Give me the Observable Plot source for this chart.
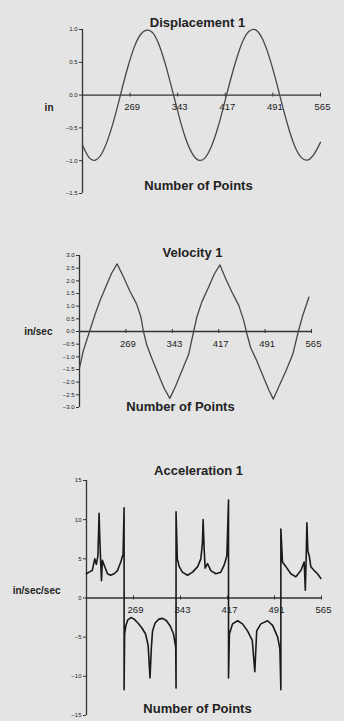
<!DOCTYPE html>
<html><head><meta charset="utf-8">
<script src="https://cdn.jsdelivr.net/npm/d3@7"></script>
<script src="https://cdn.jsdelivr.net/npm/@observablehq/plot@0.6"></script>
<style>
html,body{margin:0;padding:0;background:#e4e4e4;}
#wrap{position:relative;width:344px;height:721px;overflow:hidden;background:#e4e4e4;}
#wrap svg{position:absolute;left:0;}
</style></head><body><div id="wrap"></div>
<script>
// ---- data ----
const xTicks = [269, 343, 417, 491, 565];
const xLabel = "Number of Points";

const dispTitle = "Displacement 1";
const dispUnit = "in";
const dispTicks = [1.0, 0.5, 0.0, -0.5, -1.0, -1.5];
const dispPoints = [195,205,215,225,235,245,255,265,275,285,295,305,315,325,335,345,355,365,375,385,395,405,415,425,435,445,455,465,475,485,495,505,515,525,535,545,555,565];
const dispValues = [-0.76,-0.95,-0.99,-0.89,-0.66,-0.34,0.04,0.41,0.72,0.92,0.99,0.94,0.74,0.43,0.06,-0.32,-0.65,-0.88,-0.99,-0.96,-0.79,-0.51,-0.15,0.23,0.57,0.84,0.98,0.99,0.85,0.59,0.25,-0.13,-0.49,-0.78,-0.95,-0.99,-0.90,-0.72];

const velTitle = "Velocity 1";
const velUnit = "in/sec";
const velTicks = [3.0,2.5,2.0,1.5,1.0,0.5,0.0,-0.5,-1.0,-1.5,-2.0,-2.5,-3.0];
const velPoints = [195,201,211,220,228,238,246,255,265,276,286,293,297,302,310,321,330,339,348,358,369,377,382,390,401,410,419,428,438,449,457,461,468,478,489,497,504,513,524,535,544,551,561];
const velValues = [-1.44,-0.77,0,0.69,1.23,1.83,2.29,2.67,2.16,1.56,1.09,0.56,0,-0.51,-1.04,-1.71,-2.24,-2.64,-2.17,-1.57,-0.91,0,0.56,1.16,1.76,2.27,2.63,2.09,1.56,1.03,0.43,0,-0.64,-1.17,-1.84,-2.31,-2.67,-2.17,-1.57,-0.91,0,0.63,1.36];

const accTitle = "Acceleration 1";
const accUnit = "in/sec/sec";
const accTicks = [15,10,5,0,-5,-10,-15];
const accPoints = [195,199,204,208,210.5,213,214.8,216,217.5,218.6,220,223.8,228,233,238.5,243.8,249,252.6,254.2,254.2,
  255,257,260,265,270,276,282,288,292,295,297,299,303,309,315,321,327,332,335.5,336,336,
  338,341,346,354,362,370,375,377.5,378.6,380.2,381.8,385.5,390.7,398.6,406.5,411.7,416,418.6,418.6,
  420,425,433,440.6,448.5,456,460,463,469.5,480,488,496,499.5,501,501,
  503.6,509,516.7,524.6,532.5,537.7,539.5,541,542,543.5,545.6,548.2,553.5,558.7,564];
const accValues = [3.1,3.3,3.5,5.0,4.3,5.4,10.8,7.5,4.2,2.2,4.8,4.0,3.1,2.9,3.1,3.5,4.6,5.6,11.5,-11.7,
  -4.6,-3.5,-2.8,-2.5,-2.7,-3.2,-3.8,-4.6,-6.0,-10.2,-6.5,-4.2,-3.2,-2.7,-2.6,-2.9,-3.6,-4.6,-6.3,-11.5,11.0,
  5.0,4.0,3.3,2.9,3.3,4.0,5.0,7.0,10.0,6.3,3.8,4.4,3.5,3.1,3.3,4.2,5.4,12.5,-10.2,
  -4.6,-3.3,-2.9,-3.3,-4.2,-5.4,-9.4,-4.2,-3.3,-2.9,-3.5,-5.0,-6.5,-11.7,8.8,
  4.6,4.0,3.1,2.7,3.5,4.6,1.0,5.5,9.6,6.0,5.4,4.0,3.5,3.1,2.5];

// ---- drawing ----
const FONT = "'Liberation Sans', Arial, Helvetica, sans-serif";
const INK = "#222";
const AXIS = "#333";

function panel(o) {
  const data = o.points.map((p, i) => ({x: p, y: o.values[i]}));
  const svg = Plot.plot({
    width: 344,
    height: o.height,
    marginLeft: o.ml, marginRight: o.mr, marginTop: o.mt, marginBottom: o.mb,
    style: {background: "transparent", fontFamily: FONT, color: INK, overflow: "visible"},
    x: {domain: [195, 565], axis: null},
    y: {domain: o.yDomain},
    marks: [
      Plot.ruleX([195], {stroke: AXIS, strokeWidth: 1.3}),
      Plot.ruleY([0], {stroke: AXIS, strokeWidth: 1.3}),
      Plot.axisY({ticks: o.yTicks, tickFormat: o.yFmt, tickSize: 3, tickPadding: 2, fontSize: 6, label: null, stroke: AXIS}),
      Plot.ruleX(xTicks, {x: d => d, y1: 0, y2: 0, insetTop: -2, insetBottom: -2, stroke: AXIS}),
      Plot.text(xTicks, {x: d => d, y: 0, text: d => String(d), dy: 12, dx: 2, fontSize: 9.5, fill: INK}),
      Plot.line(data, {x: "x", y: "y", curve: o.curve, stroke: o.stroke, strokeWidth: o.sw}),
      Plot.text([o.title], {text: d => d, frameAnchor: "top", dx: o.tdx, dy: o.tdy, fontSize: 13, fontWeight: "bold", fill: INK}),
      Plot.text([xLabel], {text: d => d, frameAnchor: "bottom", dx: o.ldx, dy: o.ldy, fontSize: 13, fontWeight: "bold", fill: INK}),
      Plot.text([o.unit], {text: d => d, x: 195, y: 0, dx: o.udx, dy: o.udy, textAnchor: "end", fontSize: 10, fontWeight: "bold", fill: INK})
    ]
  });
  svg.style.top = o.top + "px";
  document.getElementById("wrap").appendChild(svg);
}

panel({top: 0, height: 200, ml: 82, mr: 24, mt: 29, mb: 7,
  yDomain: [-1.5, 1.0], yTicks: dispTicks, yFmt: d3.format(".1f"),
  points: dispPoints, values: dispValues, curve: "natural", stroke: "#474747", sw: 1.3,
  title: dispTitle, tdx: -4, tdy: -12, ldx: -3, ldy: -4, unit: dispUnit, udx: -29, udy: 13});

panel({top: 215, height: 205, ml: 79, mr: 33, mt: 40, mb: 13,
  yDomain: [-3.0, 3.0], yTicks: velTicks, yFmt: d3.format(".1f"),
  points: velPoints, values: velValues, curve: "linear", stroke: "#474747", sw: 1.3,
  title: velTitle, tdx: -3, tdy: -8, ldx: -15, ldy: 3, unit: velUnit, udx: -27, udy: 0});

panel({top: 430, height: 291, ml: 86, mr: 23, mt: 50, mb: 6,
  yDomain: [-15, 15], yTicks: accTicks, yFmt: d3.format("d"),
  points: accPoints, values: accValues, curve: "linear", stroke: "#1a1a1a", sw: 1.6,
  title: accTitle, tdx: -5.5, tdy: -15, ldx: -6.5, ldy: -3, unit: accUnit, udx: -26, udy: -7});
</script>
</body></html>
